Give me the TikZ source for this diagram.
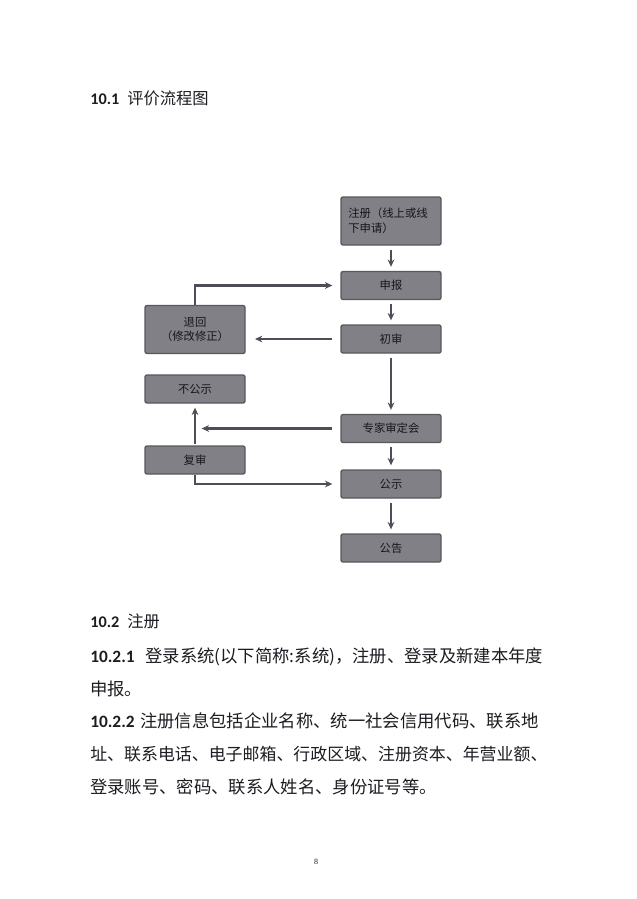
\documentclass[tikz,border=0pt]{standalone}
\usepackage{fontspec}
\setmainfont{Carlito}
\newfontfamily\cjk{Noto Sans CJK SC}
\newfontfamily\pgnum{Liberation Serif}
\usetikzlibrary{arrows.meta}
\definecolor{boxfill}{RGB}{128,128,134}
\definecolor{boxline}{RGB}{88,88,95}
\definecolor{lnk}{RGB}{78,78,86}
\definecolor{boxtext}{RGB}{22,22,28}
\definecolor{bodytext}{RGB}{28,28,34}
\begin{document}
\begin{tikzpicture}[x=0.75pt,y=-0.75pt,
  stepbox/.style={draw=boxline,fill=boxfill,line width=1pt,rounded corners=1.5pt,
    minimum width=75pt,minimum height=21pt,inner sep=2pt,
    font=\cjk\fontsize{8.5}{11}\selectfont,text=boxtext,align=center},
  tallbox/.style={minimum height=36pt},
  link/.style={draw=lnk,line width=1.7pt,-{Stealth[length=5.5pt,width=5pt]}},
  body/.style={anchor=base west,inner sep=0pt,font=\cjk\fontsize{13}{15}\selectfont,text=bodytext},
  head/.style={anchor=base west,inner sep=0pt,font=\cjk\fontsize{12.2}{15}\selectfont,text=bodytext}]
\path[use as bounding box,fill=white] (0,0) rectangle (636,899);

% headings and text
\node[head] (h1) at (90,104) {{\rmfamily\bfseries 10.1}\hspace{6pt}评价流程图};
\node[head] (h2) at (90,627) {{\rmfamily\bfseries 10.2}\hspace{6pt}注册};
\node[body] (l1) at (90,662) {{\rmfamily\bfseries 10.2.1}\hspace{8pt}登录系统(以下简称:系统)，注册、登录及新建本年度};
\node[body] (l2) at (90,695) {申报。};
\node[body] (l3) at (90,727) {{\rmfamily\bfseries 10.2.2}\hspace{4pt}注册信息包括企业名称、统一社会信用代码、联系地};
\node[body,font=\cjk\fontsize{12.7}{15}\selectfont] (l4) at (90,760) {址、联系电话、电子邮箱、行政区域、注册资本、年营业额、};
\node[body] (l5) at (90,793) {登录账号、密码、联系人姓名、身份证号等。};
\node[anchor=center,inner sep=0pt,font=\pgnum\fontsize{6}{7}\selectfont,text=bodytext] (pg) at (316,862) {8};

% boxes, right column
\node[stepbox,tallbox,align=left,text width=64pt] (zc) at (391,221) {注册（线上或线\\下申请）};
\node[stepbox] (sb) at (391,285.5) {申报};
\node[stepbox] (cs) at (391,339) {初审};
\node[stepbox] (zj) at (391,428.5) {专家审定会};
\node[stepbox] (gs) at (391,484) {公示};
\node[stepbox] (gg) at (391,548) {公告};
% boxes, left column
\node[stepbox,tallbox] (th) at (195,329.5) {退回\\（修改修正）};
\node[stepbox] (bg) at (195,389) {不公示};
\node[stepbox] (fs) at (195,460) {复审};

% connectors
\draw[link,shorten <=3pt,shorten >=3pt] (zc.south) -- (sb.north);
\draw[link,shorten <=3pt,shorten >=3pt] (sb.south) -- (cs.north);
\draw[link,shorten <=3pt,shorten >=3pt] (cs.south) -- (zj.north);
\draw[link,shorten <=3pt,shorten >=3pt] (zj.south) -- (gs.north);
\draw[link,shorten <=3pt,shorten >=3pt] (gs.south) -- (gg.north);
\draw[link,shorten >=6pt] (th.north) |- (sb.west);
\draw[link,shorten <=6pt,shorten >=7pt] (cs.west) -- (cs.west -| th.east);
\draw[link,shorten <=6pt,shorten >=5pt] (zj.west) -- (zj.west -| fs.north);
\draw[link,shorten <=1pt,shorten >=3pt] (fs.north) -- (bg.south);
\draw[link,shorten >=6pt] (fs.south) |- (gs.west);
\end{tikzpicture}
\end{document}
